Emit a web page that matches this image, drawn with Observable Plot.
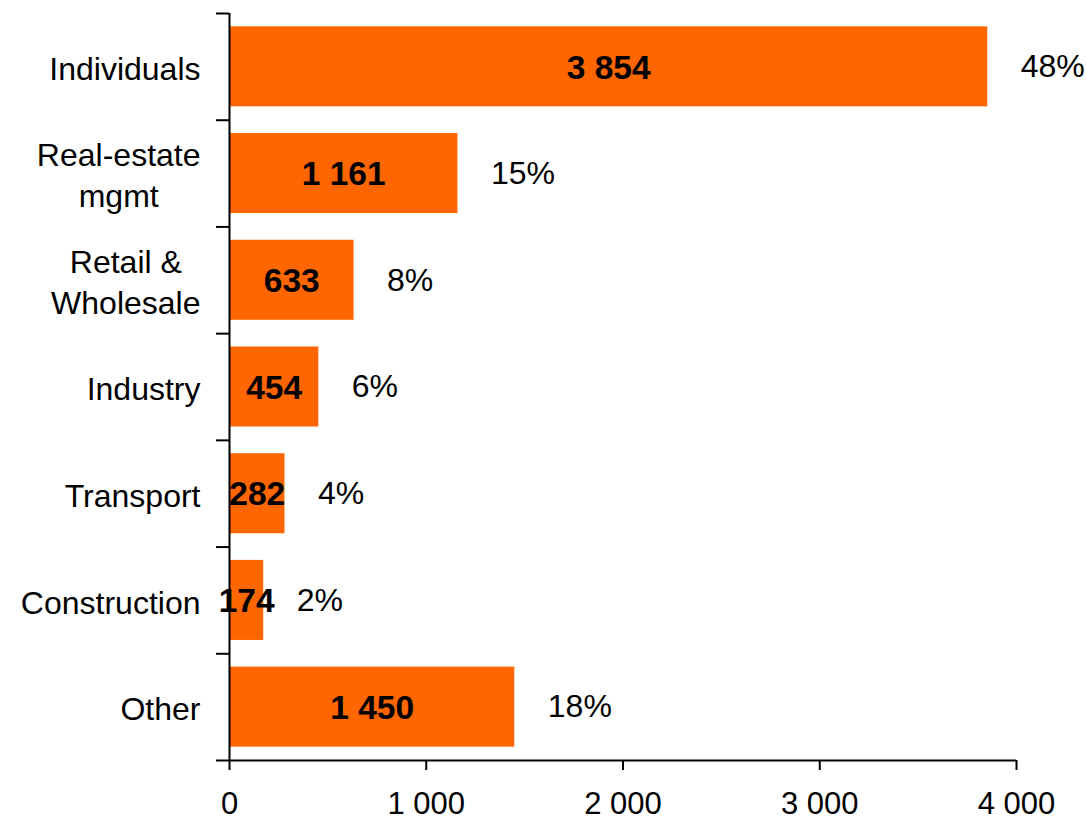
<!DOCTYPE html>
<html>
<head>
<meta charset="utf-8">
<script src="https://cdn.jsdelivr.net/npm/d3@7"></script>
<script src="https://cdn.jsdelivr.net/npm/@observablehq/plot@0.6"></script>
<style>
  html, body { margin: 0; padding: 0; background: #fff; }
</style>
</head>
<body>
<div id="chart"></div>
<script>
const categories = ["Individuals", "Real-estate\nmgmt", "Retail &\nWholesale", "Industry", "Transport", "Construction", "Other"];
const values = [3854, 1161, 633, 454, 282, 174, 1450];
const shares = [48, 15, 8, 6, 4, 2, 18];
const xTicks = [0, 1000, 2000, 3000, 4000];

const data = categories.map((c, i) => ({category: c, value: values[i], share: shares[i]}));

const W = 1086, H = 823;
const mT = 13, mB = 63, mL = 229, mR = 70;
const step = (H - mT - mB) / categories.length;
const FONT = "'Liberation Sans', Arial, sans-serif";
const FS = 32;

const fmt = v => d3.format(",")(v).replace(/,/g, "\u00a0");

// measure label block widths for centered multi-line labels
const ctx = document.createElement("canvas").getContext("2d");
ctx.font = `${FS}px ${FONT}`;
const blockWidth = c => Math.max(...c.split("\n").map(l => ctx.measureText(l).width));

const labelMarks = categories.map(c => Plot.text([c], {
  x: 0, y: d => d, text: d => d,
  textAnchor: "middle", lineAnchor: "middle", lineHeight: 1.28,
  dx: -(29 + blockWidth(c) / 2), fill: "#000", fontSize: FS
}));

const chart = Plot.plot({
  width: W, height: H,
  marginTop: mT, marginBottom: mB, marginLeft: mL, marginRight: mR,
  style: {fontFamily: FONT, fontSize: FS + "px", background: "#fff", color: "#000"},
  x: {domain: [0, 4000], axis: null, label: null},
  y: {domain: categories, paddingInner: 0.25, paddingOuter: 0.125, round: false, axis: null, label: null},
  marks: [
    Plot.barX(data, {x: "value", y: "category", fill: "#FF6600"}),
    // y axis line
    Plot.ruleX([0], {stroke: "#000", strokeWidth: 2}),
    // y tick marks at band boundaries
    Plot.ruleY(categories, {y: d => d, x1: -66, x2: 0, dy: -step / 2, stroke: "#000", strokeWidth: 2}),
    Plot.ruleY([categories[categories.length - 1]], {y: d => d, x1: -66, x2: 4000, dy: step / 2, stroke: "#000", strokeWidth: 2}),
    Plot.axisX({ticks: xTicks, tickSize: 10, tickPadding: 21, tickFormat: fmt, label: null, stroke: "#000", strokeWidth: 2, fill: "#000", fontSize: 31}),
    Plot.text(data, {x: d => d.value / 2, y: "category", text: d => fmt(d.value), fontWeight: "bold", fontSize: 33.5, fill: "#000", textAnchor: "middle", dy: 1}),
    Plot.text(data, {x: "value", y: "category", text: d => d.share + "%", dx: 33, textAnchor: "start", fill: "#000", fontSize: FS}),
    ...labelMarks
  ]
});
document.getElementById("chart").appendChild(chart);
</script>
</body>
</html>
